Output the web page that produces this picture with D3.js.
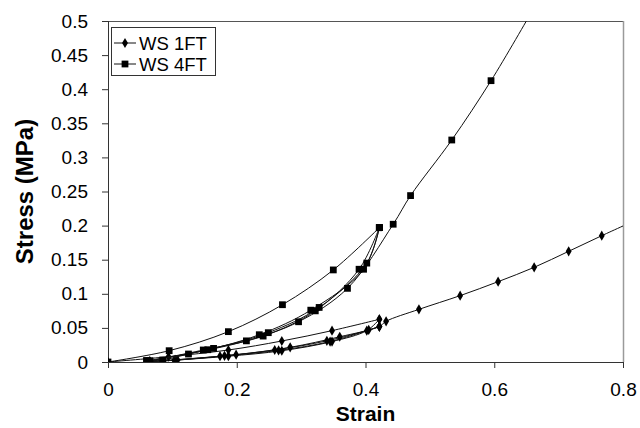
<!DOCTYPE html>
<html>
<head>
<meta charset="utf-8">
<script src="https://cdn.jsdelivr.net/npm/d3@7"></script>
<style>
  html, body { margin: 0; padding: 0; background: #fff; }
  svg { display: block; }
  text { font-family: "Liberation Sans", Arial, sans-serif; fill: #000; }
</style>
</head>
<body>
<svg id="chart" width="640" height="428"></svg>
<script>
// ---- data (strain, stress MPa) ----
const seriesNames = ["WS 1FT", "WS 4FT"];
const xTickValues = [0, 0.2, 0.4, 0.6, 0.8];
const xTickLabels = ["0", "0.2", "0.4", "0.6", "0.8"];
const yTickValues = [0, 0.05, 0.1, 0.15, 0.2, 0.25, 0.3, 0.35, 0.4, 0.45, 0.5];
const yTickLabels = ["0", "0.05", "0.1", "0.15", "0.2", "0.25", "0.3", "0.35", "0.4", "0.45", "0.5"];

// WS 1FT cycles
const ws1Load1   = [[0,0],[0.094,0.0078],[0.187,0.0176],[0.270,0.0308],[0.348,0.046],[0.4215,0.0626]];
const ws1Unload1 = [[0.4215,0.0626],[0.402,0.046],[0.348,0.030],[0.270,0.0165],[0.187,0.0085],[0.108,0.003],[0.065,0.0008]];
const ws1Load2   = [[0.065,0.0008],[0.103,0.0025],[0.181,0.009],[0.259,0.0176],[0.340,0.031],[0.405,0.047],[0.4215,0.052]];
const ws1Unload2 = [[0.4215,0.052],[0.345,0.030],[0.265,0.017],[0.174,0.0085],[0.065,0.0005]];
const ws1Final   = [[0.065,0.0005],[0.105,0.003],[0.199,0.0108],[0.283,0.0215],[0.360,0.037],[0.4215,0.052],[0.432,0.0597],[0.483,0.0772],[0.547,0.0973],[0.606,0.1178],[0.662,0.1388],[0.7156,0.1623],[0.767,0.1852],[0.82,0.208]];

// WS 4FT cycles
const ws4Load1   = [[0,0],[0.095,0.0166],[0.187,0.0445],[0.271,0.084],[0.350,0.135],[0.4215,0.197]];
const ws4Unload1 = [[0.4215,0.197],[0.402,0.145],[0.328,0.080],[0.249,0.043],[0.164,0.020],[0.065,0.0015]];
const ws4Load2   = [[0.065,0.0015],[0.148,0.0176],[0.241,0.038],[0.322,0.075],[0.390,0.136],[0.4215,0.197]];
const ws4Unload2 = [[0.4215,0.197],[0.397,0.136],[0.315,0.076],[0.235,0.040],[0.155,0.018],[0.060,0.002]];
const ws4Final   = [[0.060,0.002],[0.085,0.003],[0.125,0.0117],[0.215,0.031],[0.296,0.059],[0.372,0.108],[0.443,0.202],[0.470,0.244],[0.534,0.3255],[0.595,0.4125],[0.656,0.51]];

const ws1Segments = [ws1Load1, ws1Unload1, ws1Load2, ws1Unload2, ws1Final];
const ws4Segments = [ws4Load1, ws4Unload1, ws4Load2, ws4Unload2, ws4Final];

// ---- layout ----
const plot = { left: 108, right: 623, top: 21, bottom: 362 };
const svg = d3.select("#chart");

const x = d3.scaleLinear().domain([0, 0.8]).range([plot.left, plot.right]);
const y = d3.scaleLinear().domain([0, 0.5]).range([plot.bottom, plot.top]);

svg.append("defs").append("clipPath").attr("id", "clip")
  .append("rect").attr("x", plot.left).attr("y", plot.top)
  .attr("width", plot.right - plot.left).attr("height", plot.bottom - plot.top);

// plot border (top & right)
svg.append("line").attr("x1", plot.left).attr("x2", plot.right).attr("y1", plot.top + 0.5).attr("y2", plot.top + 0.5)
  .attr("stroke", "#555").attr("stroke-width", 1);
svg.append("line").attr("x1", plot.right + 0.5).attr("x2", plot.right + 0.5).attr("y1", plot.top).attr("y2", plot.bottom)
  .attr("stroke", "#9a9a9a").attr("stroke-width", 1.5);

// axes
const xAxis = d3.axisBottom(x).tickValues(xTickValues).tickFormat((d, i) => xTickLabels[i]).tickSize(6).tickPadding(15);
const yAxis = d3.axisLeft(y).tickValues(yTickValues).tickFormat((d, i) => yTickLabels[i]).tickSize(6).tickPadding(14);

const gx = svg.append("g").attr("transform", `translate(0,${plot.bottom})`).call(xAxis);
const gy = svg.append("g").attr("transform", `translate(${plot.left},0)`).call(yAxis);
[gx, gy].forEach(g => {
  g.select(".domain").attr("stroke", "#333").attr("stroke-width", 1);
  g.selectAll(".tick line").attr("stroke", "#333");
  g.selectAll(".tick text").attr("font-size", 19).attr("font-family", '"Liberation Sans", Arial, sans-serif').attr("fill", "#000");
});
gx.select(".domain").attr("d", `M${plot.left},0.5H${plot.right}`);
gy.select(".domain").attr("d", `M0.5,${plot.bottom}V${plot.top}`);

// axis titles
svg.append("text").attr("x", (plot.left + plot.right) / 2).attr("y", 421)
  .attr("text-anchor", "middle").attr("font-weight", "bold").attr("font-size", 21).text("Strain");
svg.append("text").attr("transform", `translate(33,${(plot.top + plot.bottom) / 2}) rotate(-90)`)
  .attr("text-anchor", "middle").attr("font-weight", "bold").attr("font-size", 24).text("Stress (MPa)");

// series
const line = d3.line().x(d => x(d[0])).y(d => y(d[1])).curve(d3.curveCatmullRom.alpha(0.5));
const gData = svg.append("g").attr("clip-path", "url(#clip)");

const diamondSize = 30, squareSize = 46;
function drawSeries(segments, shape, size) {
  const g = gData.append("g");
  g.selectAll("path.seg").data(segments).join("path").attr("class", "seg")
    .attr("d", line).attr("fill", "none").attr("stroke", "#111").attr("stroke-width", 1);
  const pts = segments.flat();
  g.selectAll("path.mk").data(pts).join("path").attr("class", "mk")
    .attr("transform", d => `translate(${x(d[0])},${y(d[1])})`)
    .attr("d", d3.symbol().type(shape).size(size)).attr("fill", "#000");
}
drawSeries(ws1Segments, d3.symbolDiamond, diamondSize);
drawSeries(ws4Segments, d3.symbolSquare, squareSize);

// legend
const lg = svg.append("g");
lg.append("rect").attr("x", 111.5).attr("y", 27.5).attr("width", 104).attr("height", 48)
  .attr("fill", "#fff").attr("stroke", "#333").attr("stroke-width", 1);
const legendShapes = [[d3.symbolDiamond, diamondSize], [d3.symbolSquare, squareSize]];
seriesNames.forEach((name, i) => {
  const yy = 43 + i * 21;
  lg.append("line").attr("x1", 114).attr("x2", 136).attr("y1", yy).attr("y2", yy).attr("stroke", "#111");
  lg.append("path").attr("transform", `translate(125,${yy})`)
    .attr("d", d3.symbol().type(legendShapes[i][0]).size(legendShapes[i][1])).attr("fill", "#000");
  lg.append("text").attr("x", 139).attr("y", yy).attr("dy", "0.36em").attr("font-size", 18.5).text(name);
});
</script>
</body>
</html>
